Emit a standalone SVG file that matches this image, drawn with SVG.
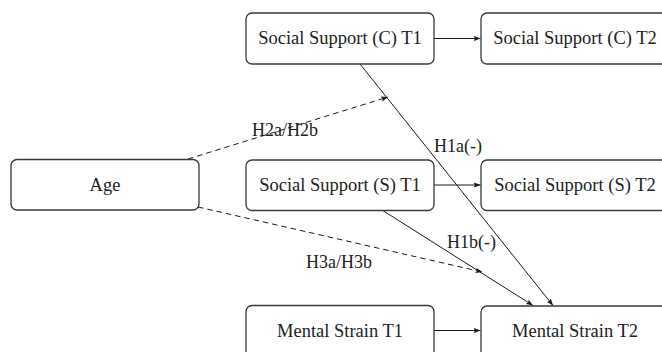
<svg xmlns="http://www.w3.org/2000/svg" width="662" height="352" viewBox="0 0 662 352">
<style>
.box{fill:#fff;stroke:#3a3a3a;stroke-width:1.3}
.t{font-family:"Liberation Serif","DejaVu Serif",serif;font-size:18.5px;fill:#222;text-anchor:middle}
.lbl{font-family:"Liberation Serif","DejaVu Serif",serif;font-size:18px;fill:#222}
.e{fill:none;stroke:#1a1a1a;stroke-width:1}
.d{stroke-dasharray:5.5,4}
</style>
<defs>
<marker id="ah" markerUnits="userSpaceOnUse" markerWidth="8" markerHeight="6" refX="7" refY="3" orient="auto">
<path d="M0,0.3 L7,3 L0,5.7 L1.6,3 z" fill="#1a1a1a"/>
</marker>
</defs>
<rect width="662" height="352" fill="#fff"/>
<g id="edges">
<line class="e" x1="434" y1="38.5" x2="480.5" y2="38.5" marker-end="url(#ah)"/>
<line class="e" x1="434" y1="185" x2="480.5" y2="185" marker-end="url(#ah)"/>
<line class="e" x1="434" y1="330.5" x2="480.5" y2="330.5" marker-end="url(#ah)"/>
<line class="e" x1="360" y1="64" x2="553" y2="305.5" marker-end="url(#ah)"/>
<line class="e" x1="382" y1="210" x2="533" y2="305.5" marker-end="url(#ah)"/>
<line class="e d" x1="188" y1="159" x2="388" y2="97" marker-end="url(#ah)"/>
<line class="e d" x1="198" y1="207" x2="482.5" y2="272" marker-end="url(#ah)"/>
<text class="lbl" x="252" y="135.5">H2a/H2b</text>
<text class="lbl" x="434" y="152">H1a(-)</text>
<text class="lbl" x="447" y="248">H1b(-)</text>
<text class="lbl" x="306" y="268">H3a/H3b</text>
</g>
<g id="age">
<rect class="box" x="11" y="159.5" width="188" height="50.5" rx="6"/>
<text class="t" x="105" y="190.5">Age</text>
</g>
<g id="ssc1">
<rect class="box" x="246" y="13" width="188" height="51" rx="6"/>
<text class="t" x="340" y="44">Social Support (C) T1</text>
</g>
<g id="ssc2">
<rect class="box" x="481" y="13" width="188" height="51" rx="6"/>
<text class="t" x="575" y="44">Social Support (C) T2</text>
</g>
<g id="sss1">
<rect class="box" x="246" y="160" width="188" height="50.5" rx="6"/>
<text class="t" x="340" y="190.5">Social Support (S) T1</text>
</g>
<g id="sss2">
<rect class="box" x="481" y="160" width="188" height="50.5" rx="6"/>
<text class="t" x="575" y="190.5">Social Support (S) T2</text>
</g>
<g id="ms1">
<rect class="box" x="246" y="305.5" width="188" height="51" rx="6"/>
<text class="t" x="340" y="337">Mental Strain T1</text>
</g>
<g id="ms2">
<rect class="box" x="481" y="306" width="188" height="51" rx="6"/>
<text class="t" x="575" y="337">Mental Strain T2</text>
</g>
</svg>
